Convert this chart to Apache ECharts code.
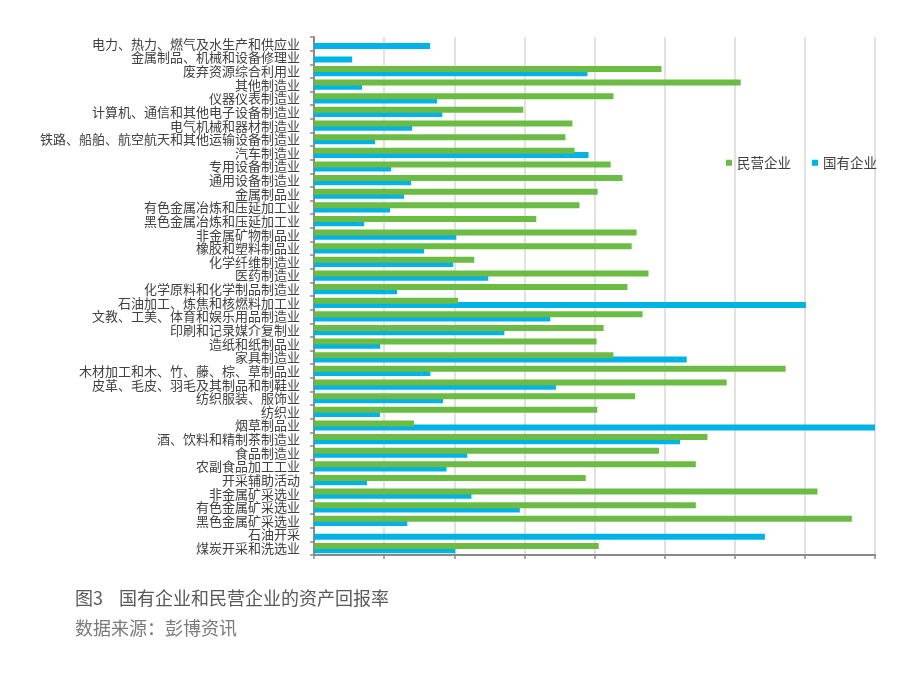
<!DOCTYPE html>
<html>
<head>
<meta charset="utf-8">
<script src="https://cdn.jsdelivr.net/npm/echarts@6/dist/echarts.min.js"></script>
<style>
html,body{margin:0;padding:0;background:#fff;}
#c{width:904px;height:686px;}
</style>
</head>
<body>
<div id="c"></div>
<script>
var categories = [
  '电力、热力、燃气及水生产和供应业',
  '金属制品、机械和设备修理业',
  '废弃资源综合利用业',
  '其他制造业',
  '仪器仪表制造业',
  '计算机、通信和其他电子设备制造业',
  '电气机械和器材制造业',
  '铁路、船舶、航空航天和其他运输设备制造业',
  '汽车制造业',
  '专用设备制造业',
  '通用设备制造业',
  '金属制品业',
  '有色金属冶炼和压延加工业',
  '黑色金属冶炼和压延加工业',
  '非金属矿物制品业',
  '橡胶和塑料制品业',
  '化学纤维制造业',
  '医药制造业',
  '化学原料和化学制品制造业',
  '石油加工、炼焦和核燃料加工业',
  '文教、工美、体育和娱乐用品制造业',
  '印刷和记录媒介复制业',
  '造纸和纸制品业',
  '家具制造业',
  '木材加工和木、竹、藤、棕、草制品业',
  '皮革、毛皮、羽毛及其制品和制鞋业',
  '纺织服装、服饰业',
  '纺织业',
  '烟草制品业',
  '酒、饮料和精制茶制造业',
  '食品制造业',
  '农副食品加工工业',
  '开采辅助活动',
  '非金属矿采选业',
  '有色金属矿采选业',
  '黑色金属矿采选业',
  '石油开采',
  '煤炭开采和洗选业'
];
var privateValues = [
  null, null, 9.91, 12.17, 8.54, 5.97, 7.37, 7.17, 7.43, 8.46,
  8.80, 8.09, 7.57, 6.34, 9.20, 9.06, 4.57, 9.54, 8.94, 4.11,
  9.37, 8.26, 8.06, 8.54, 13.45, 11.77, 9.16, 8.08, 2.85, 11.22,
  9.84, 10.89, 7.75, 14.36, 10.89, 15.34, null, 8.12
];
var stateValues = [
  3.31, 1.09, 7.80, 1.37, 3.51, 3.66, 2.80, 1.74, 7.83, 2.20,
  2.77, 2.57, 2.17, 1.43, 4.06, 3.14, 3.97, 4.97, 2.37, 14.03,
  6.74, 5.43, 1.89, 10.63, 3.32, 6.90, 3.68, 1.88, 16, 10.44,
  4.37, 3.78, 1.51, 4.49, 5.87, 2.66, 12.86, 4.03
];
var seriesNames = ['民营企业', '国有企业'];
var captionTitle = '国有企业和民营企业的资产回报率';
var captionNo = '图3';
var captionSource = '数据来源：彭博资讯';

var FONT = '"Noto Sans CJK SC", "Noto Sans", sans-serif';
var chart = echarts.init(document.getElementById('c'), null, {renderer: 'canvas'});
chart.setOption({
  animation: false,
  backgroundColor: '#ffffff',
  textStyle: {fontFamily: FONT},
  grid: {left: 314, right: 29, top: 37, bottom: 131, containLabel: false},
  legend: {
    data: seriesNames,
    left: 721,
    top: 151,
    icon: 'rect',
    itemWidth: 6,
    itemHeight: 6,
    itemGap: 21,
    textStyle: {fontFamily: FONT, fontSize: 13.5, color: '#404040'}
  },
  xAxis: {
    type: 'value',
    min: 0,
    max: 16,
    interval: 2,
    axisLabel: {show: false},
    axisLine: {show: true, lineStyle: {color: '#898989', width: 2}},
    axisTick: {show: true, length: 4, lineStyle: {color: '#898989', width: 1.5}},
    splitLine: {show: true, lineStyle: {color: '#d9d9d9', width: 1.5}}
  },
  yAxis: {
    type: 'category',
    data: categories,
    inverse: true,
    axisLine: {show: true, lineStyle: {color: '#898989', width: 2}},
    axisTick: {show: true, length: 4, lineStyle: {color: '#898989', width: 1.5}},
    axisLabel: {fontFamily: FONT, fontSize: 13, color: '#404040', margin: 14, interval: 0},
    splitLine: {show: false}
  },
  series: [
    {
      name: seriesNames[0],
      type: 'bar',
      data: privateValues,
      barWidth: 6,
      barGap: '-30%',
      z: 3,
      itemStyle: {color: '#6bbb45'}
    },
    {
      name: seriesNames[1],
      type: 'bar',
      data: stateValues,
      barWidth: 6,
      barGap: '-30%',
      z: 2,
      itemStyle: {color: '#00b3e6'}
    }
  ],
  graphic: [
    {type: 'text', left: 75, top: 589, style: {text: captionNo, font: '18px ' + FONT, fill: '#595959'}},
    {type: 'text', left: 119, top: 589, style: {text: captionTitle, font: '18px ' + FONT, fill: '#595959'}},
    {type: 'text', left: 75, top: 619, style: {text: captionSource, font: '18px ' + FONT, fill: '#7a7a7a'}}
  ]
});
</script>
</body>
</html>
